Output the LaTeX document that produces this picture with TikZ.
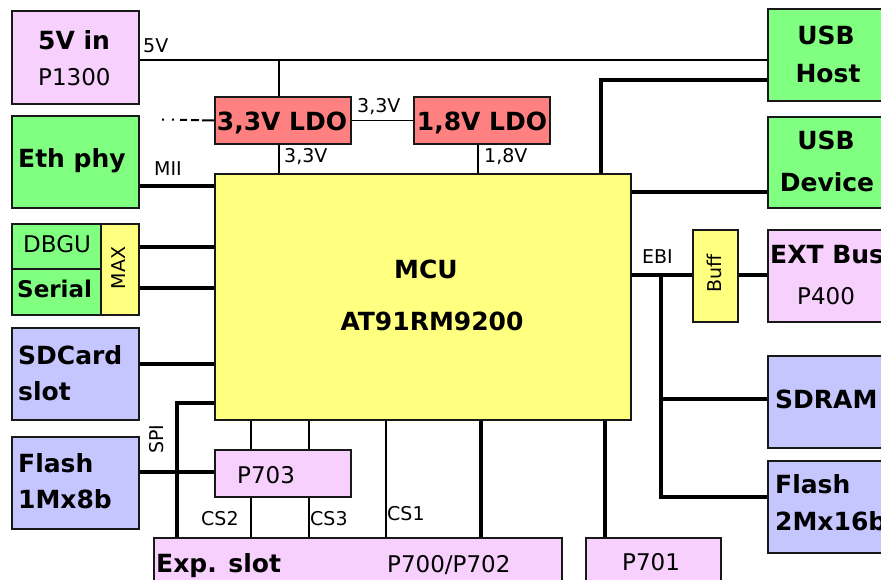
\documentclass[tikz,border=0pt]{standalone}
\usepackage{fontspec}
\setmainfont{DejaVu Sans}
\definecolor{pinkc}{RGB}{247,208,253}
\definecolor{greenc}{RGB}{128,255,128}
\definecolor{bluec}{RGB}{198,198,255}
\definecolor{salmonc}{RGB}{255,128,128}
\definecolor{yellowc}{RGB}{255,255,128}
\definecolor{bordc}{RGB}{24,24,24}
\begin{document}
\begin{tikzpicture}[x=1pt,y=-1pt,
  box/.style={draw=bordc, line width=2pt, inner sep=0pt, anchor=north west},
  thinw/.style={line width=1.8pt, draw=black},
  thickw/.style={line width=3.6pt, draw=black},
  bigt/.style={font=\fontsize{25}{30}\selectfont\bfseries, inner sep=0pt, anchor=base west},
  regt/.style={font=\fontsize{23}{28}\selectfont, inner sep=0pt, anchor=base west},
  smallt/.style={font=\fontsize{19}{23}\selectfont, inner sep=0pt, anchor=base west}]
\useasboundingbox (0,0) rectangle (881,580);
\fill[white] (0,0) rectangle (881,580);
\clip (0,0) rectangle (881,580);
% boxes
\node[box, fill=pinkc, minimum width=127pt, minimum height=93pt] (fivev) at (11,10) {};
\node[box, fill=greenc, minimum width=127pt, minimum height=92pt] (eth) at (11,115) {};
\node[box, fill=greenc, minimum width=89pt, minimum height=45pt] (dbgu) at (11,223) {};
\node[box, fill=greenc, minimum width=89pt, minimum height=46pt] (serial) at (11,268) {};
\node[box, fill=yellowc, minimum width=38pt, minimum height=91pt] (max) at (100,223) {};
\node[box, fill=bluec, minimum width=127pt, minimum height=92pt] (sdcard) at (11,327) {};
\node[box, fill=bluec, minimum width=127pt, minimum height=92pt] (flasha) at (11,436) {};
\node[box, fill=salmonc, minimum width=136pt, minimum height=47pt] (ldoa) at (214,96) {};
\node[box, fill=salmonc, minimum width=136pt, minimum height=47pt] (ldob) at (413,96) {};
\node[box, fill=yellowc, minimum width=416pt, minimum height=246pt] (mcu) at (214,173) {};
\node[box, fill=pinkc, minimum width=136pt, minimum height=47pt] (pseven) at (214,449) {};
\node[box, fill=pinkc, minimum width=408pt, minimum height=60pt] (exp) at (153,537) {};
\node[box, fill=pinkc, minimum width=135pt, minimum height=60pt] (psevone) at (585,537) {};
\node[box, fill=greenc, minimum width=118pt, minimum height=92pt] (usbh) at (767,8) {};
\node[box, fill=greenc, minimum width=118pt, minimum height=91pt] (usbd) at (767,116) {};
\node[box, fill=yellowc, minimum width=45pt, minimum height=92pt] (buff) at (692,229) {};
\node[box, fill=pinkc, minimum width=118pt, minimum height=92pt] (ext) at (767,229) {};
\node[box, fill=bluec, minimum width=118pt, minimum height=92pt] (sdram) at (767,355) {};
\node[box, fill=bluec, minimum width=118pt, minimum height=92pt] (flashb) at (767,460) {};
% helper coordinates
\coordinate (hfive) at (0,60);
\coordinate (hmii) at (0,186);
\coordinate (hmaxa) at (0,247);
\coordinate (hmaxb) at (0,288);
\coordinate (hsd) at (0,364);
\coordinate (hspi) at (0,403);
\coordinate (hfl) at (0,472);
\coordinate (husbh) at (0,80);
\coordinate (husbd) at (0,192);
\coordinate (hebi) at (0,275);
\coordinate (hsdram) at (0,399);
\coordinate (hflb) at (0,497);
\coordinate (vldoa) at (279,0);
\coordinate (vldob) at (478,0);
\coordinate (vspi) at (177,0);
\coordinate (vcsa) at (251,0);
\coordinate (vcsb) at (309,0);
\coordinate (vcsc) at (386,0);
\coordinate (vexp) at (481,0);
\coordinate (vpone) at (605,0);
\coordinate (vusb) at (601,0);
\coordinate (vebi) at (661,0);
\coordinate (dotstart) at (162,119.5);
% connectors
\draw[thinw] (fivev.east |- hfive) -- (usbh.west |- hfive);
\draw[thinw] (vldoa |- hfive) -- (vldoa |- ldoa.north);
\draw[thinw] (ldoa.east) -- (ldob.west);
\draw[thinw] (vldoa |- ldoa.south) -- (vldoa |- mcu.north);
\draw[thinw] (vldob |- ldob.south) -- (vldob |- mcu.north);
\draw[line width=2pt, dash pattern=on 2pt off 8pt on 2pt off 6pt on 7pt off 4pt on 8pt off 3pt on 30pt] (dotstart) -- (ldoa.west);
\draw[thickw] (eth.east |- hmii) -- (mcu.west |- hmii);
\draw[thickw] (max.east |- hmaxa) -- (mcu.west |- hmaxa);
\draw[thickw] (max.east |- hmaxb) -- (mcu.west |- hmaxb);
\draw[thickw] (sdcard.east |- hsd) -- (mcu.west |- hsd);
\draw[thickw] (mcu.west |- hspi) -| (vspi |- exp.north);
\draw[thickw] (flasha.east |- hfl) -- (pseven.west |- hfl);
\draw[thinw] (vcsa |- mcu.south) -- (vcsa |- pseven.north);
\draw[thinw] (vcsb |- mcu.south) -- (vcsb |- pseven.north);
\draw[thinw] (vcsa |- pseven.south) -- (vcsa |- exp.north);
\draw[thinw] (vcsb |- pseven.south) -- (vcsb |- exp.north);
\draw[thinw] (vcsc |- mcu.south) -- (vcsc |- exp.north);
\draw[thickw] (vexp |- mcu.south) -- (vexp |- exp.north);
\draw[thickw] (vpone |- mcu.south) -- (vpone |- psevone.north);
\draw[thickw] (usbh.west |- husbh) -| (vusb |- mcu.north);
\draw[thickw] (mcu.east |- husbd) -- (usbd.west |- husbd);
\draw[thickw] (mcu.east |- hebi) -- (buff.west |- hebi);
\draw[thickw] (buff.east |- hebi) -- (ext.west |- hebi);
\draw[thickw] (vebi |- hebi) |- (flashb.west |- hflb);
\draw[thickw] (vebi |- hsdram) -- (sdram.west |- hsdram);
% box texts
\node[bigt] (tfive) at (38,50) {5V in};
\node[regt] (tpthirteen) at (38,86) {P1300};
\node[bigt] (teth) at (18,168) {Eth phy};
\node[regt] (tdbgu) at (23,253) {DBGU};
\node[bigt, font=\fontsize{23}{28}\selectfont\bfseries] (tserial) at (17,297) {Serial};
\node[font=\fontsize{19}{23}\selectfont, inner sep=0pt, rotate=90] (tmax) at (119,268) {MAX};
\node[bigt] (tsda) at (18,364) {SDCard};
\node[bigt] (tsdb) at (18,400) {slot};
\node[bigt] (tfla) at (18,472) {Flash};
\node[bigt] (tflb) at (18,508) {1Mx8b};
\node[bigt, anchor=base] (tldoa) at (282,131) {3,3V LDO};
\node[bigt, anchor=base] (tldob) at (482,131) {1,8V LDO};
\node[bigt, anchor=base] (tmcu) at (426,279) {MCU};
\node[bigt, anchor=base] (tat) at (432,330) {AT91RM9200};
\node[regt] (tpseven) at (237,483) {P703};
\node[bigt] (texp) at (156,572) {Exp. slot};
\node[regt] (tpexp) at (387,572) {P700/P702};
\node[regt] (tpone) at (622,570) {P701};
\node[bigt, anchor=base] (tusba) at (826,45) {USB};
\node[bigt, anchor=base] (tusbb) at (828,83) {Host};
\node[bigt, anchor=base] (tusbc) at (826,150) {USB};
\node[bigt, anchor=base] (tusbd) at (827,192) {Device};
\node[font=\fontsize{19}{23}\selectfont, inner sep=0pt, rotate=90] (tbuff) at (714,273) {Buff};
\node[bigt] (text) at (770,263) {EXT Bus};
\node[regt] (tpfour) at (797,304) {P400};
\node[bigt] (tsdram) at (775,408) {SDRAM};
\node[bigt] (tflc) at (775,493) {Flash};
\node[bigt] (tfld) at (775,530) {2Mx16b};
% connector labels
\node[smallt] (lfive) at (143,53) {5V};
\node[smallt] (lthree) at (357,113) {3,3V};
\node[smallt] (lthreeb) at (284,163) {3,3V};
\node[smallt] (leight) at (484,163) {1,8V};
\node[smallt] (lmii) at (154,176) {MII};
\node[smallt] (lebi) at (642,263) {EBI};
\node[font=\fontsize{19}{23}\selectfont, inner sep=0pt, rotate=90] (lspi) at (157,439) {SPI};
\node[smallt] (lcsa) at (201,525) {CS2};
\node[smallt] (lcsb) at (310,525) {CS3};
\node[smallt] (lcsc) at (387,520) {CS1};
\end{tikzpicture}
\end{document}
